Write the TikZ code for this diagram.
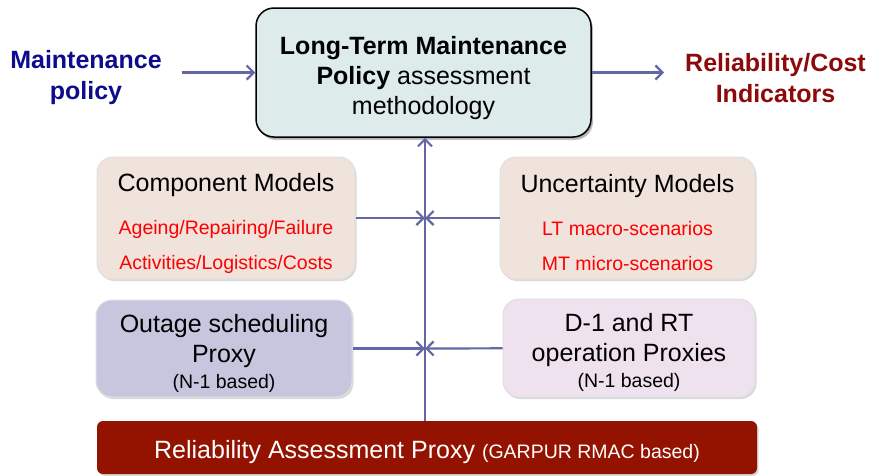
\documentclass[tikz,border=0pt]{standalone}
\usepackage{fontspec}
\setmainfont{Liberation Sans}
\usetikzlibrary{positioning,shadows,arrows.meta}

\definecolor{arrowblue}{HTML}{6467A4}
\definecolor{policyblue}{HTML}{0C0C8C}
\definecolor{costred}{HTML}{8C0A0A}
\definecolor{mainfill}{HTML}{DDEBEB}
\definecolor{modelfill}{HTML}{EFE3DC}
\definecolor{outagefill}{HTML}{C6C6DE}
\definecolor{opfill}{HTML}{EFE2EF}
\definecolor{barred}{HTML}{931300}

\newcommand{\subfont}{\fontsize{19.5}{23}\selectfont}

\begin{document}
\begin{tikzpicture}[x=1pt, y=-1pt, >={Straight Barb[length=7pt, width=14pt]}]
    \tikzstyle{box}=[rectangle, rounded corners=16pt, draw=black!12, line width=1pt, drop shadow={opacity=0.3, shadow xshift=1.5pt, shadow yshift=-2pt}]
    \tikzstyle{boxtext}=[align=center, inner sep=0pt, font=\fontsize{25}{30}\selectfont]
    \tikzstyle{flow}=[->, draw=arrowblue, line width=2.2pt]
    \tikzstyle{side}=[align=center, inner sep=0pt, font=\bfseries\fontsize{25}{31}\selectfont]

    \useasboundingbox (0,0) rectangle (872,475);

    % top row
    \node[box, draw=black, line width=1.5pt, fill=mainfill, minimum width=335pt, minimum height=129pt, rounded corners=18pt, drop shadow={opacity=0.45, shadow xshift=2pt, shadow yshift=-3pt}] (main) at (423.5,72.5) {};
    \node[boxtext] (maintext) at ([yshift=-5.5pt]main.center)
        {\textbf{Long-Term Maintenance}\\\textbf{Policy} assessment\\methodology};
    \node[side, text=policyblue] (policy) at (86,78) {Maintenance\\policy};
    \node[side, text=costred] (indic) at (775.5,78) {Reliability/Cost\\Indicators};

    % models
    \node[box, fill=modelfill, minimum width=258pt, minimum height=122pt] (comp) at (226,218) {};
    \node[boxtext] (comptext) at ([yshift=-5pt]comp.center)
        {Component Models\\[13pt]{\subfont\color{red}Ageing/Repairing/Failure}\\[5pt]{\subfont\color{red}Activities/Logistics/Costs}};
    \node[box, fill=modelfill, minimum width=255pt, minimum height=122pt] (unc) at (627.5,218) {};
    \node[boxtext] (unctext) at ([yshift=-5pt]unc.center)
        {Uncertainty Models\\[13pt]{\subfont\color{red}LT macro-scenarios}\\[5pt]{\subfont\color{red}MT micro-scenarios}};

    % proxies
    \node[box, fill=outagefill, minimum width=256pt, minimum height=97pt] (outage) at (224,348.5) {};
    \node[boxtext] (outagetext) at ([yshift=-4.5pt]outage.center)
        {Outage scheduling\\Proxy\\[-4pt]{\subfont (N-1 based)}};
    \node[box, fill=opfill, minimum width=252pt, minimum height=98pt] (oper) at (629,348) {};
    \node[boxtext] (opertext) at ([yshift=-4.5pt]oper.center)
        {D-1 and RT\\operation Proxies\\[-4pt]{\subfont (N-1 based)}};

    \node[box, fill=barred, draw=none, rounded corners=6pt, minimum width=660pt, minimum height=53pt] (rmac) at (427,447.5) {};
    \node[boxtext, text=white] (rmactext) at ([yshift=-5pt]rmac.center)
        {Reliability Assessment Proxy {\subfont (GARPUR RMAC based)}};

    \coordinate (j1) at (425,218);
    \coordinate (j2) at (425,348.5);

    \draw[flow, shorten <=20pt] (policy.east |- main.west) -- (main.west);
    \draw[flow, shorten >=21pt] (main.east) -- (indic.west |- main.east);
    \draw[flow] (rmac.north -| j1) -- (main.south -| j1);
    \draw[flow] (comp) -- (j1);
    \draw[flow] (unc) -- (j1);
    \draw[flow] (outage) -- (j2);
    \draw[flow] (oper) -- (j2);
\end{tikzpicture}
\end{document}
